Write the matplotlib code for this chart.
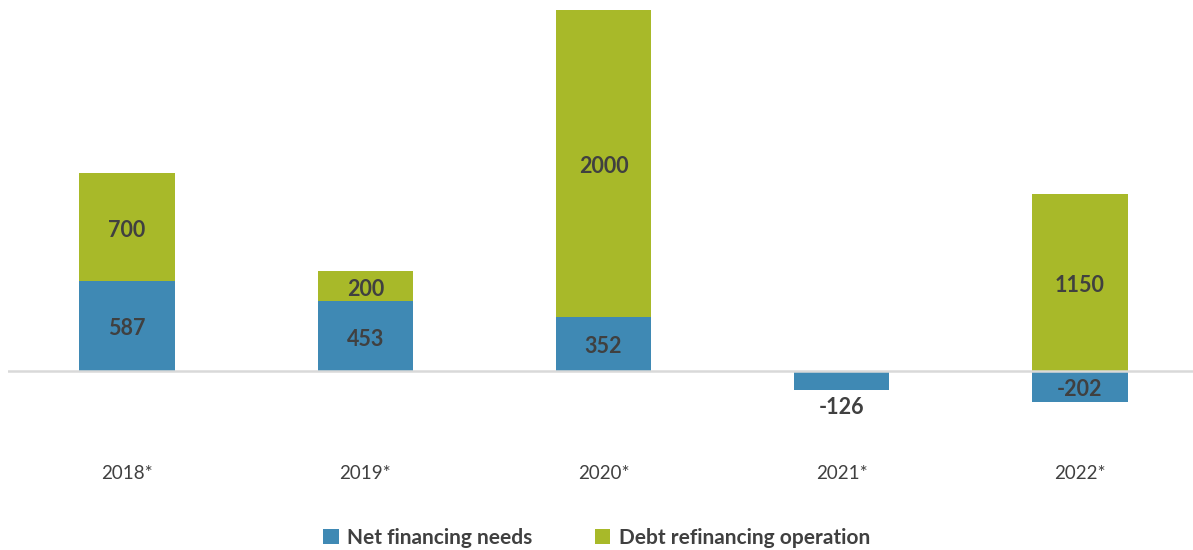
import matplotlib

matplotlib.use("Agg")
import matplotlib.pyplot as plt  # noqa: E402
import matplotlib.transforms as mtransforms  # noqa: E402
import numpy as np  # noqa: E402

years = ["2018*", "2019*", "2020*", "2021*", "2022*"]
net_financing = [587, 453, 352, -126, -202]
debt_refinancing = [700, 200, 2000, 0, 1150]
series_names = ["Net financing needs", "Debt refinancing operation"]

BLUE = "#3F89B4"
GREEN = "#A8B929"
TEXT = "#404040"

plt.rcParams["font.family"] = ["Lato", "DejaVu Sans"]

fig = plt.figure(figsize=(11.93, 5.5), dpi=100)
ax = fig.add_axes([8 / 1193, 100 / 550, 1185 / 1193, 440 / 550])

x = np.arange(len(years))
net = np.array(net_financing)
debt = np.array(debt_refinancing)
width = 0.4

ax.bar(x, net, width, color=BLUE, label=series_names[0], zorder=2)
# refinancing stacks on the positive part of the net bar
base = np.clip(net, 0, None)
ax.bar(x, debt, width, bottom=base, color=GREEN, label=series_names[1], zorder=2)

ax.axhline(0, color="#D9D9D9", linewidth=1.8, zorder=3)

# nudge labels down a few px to sit like the original (Calibri metrics)
shift = ax.transData + mtransforms.ScaledTranslation(0, -3 / 100, fig.dpi_scale_trans)
label_kw = dict(ha="center", va="center", fontsize=15.5, fontweight="bold", color=TEXT,
                zorder=4, transform=shift)
for i in range(len(years)):
    v = net[i]
    if abs(v) < 150:
        ax.text(x[i], v - 90 if v < 0 else v + 90, str(v), **label_kw)
    else:
        ax.text(x[i], v / 2, str(v), **label_kw)
    if debt[i] != 0:
        ax.text(x[i], base[i] + debt[i] / 2, str(debt[i]), **label_kw)

ax.set_xlim(-0.5, 4.5 - 6 / 238)
ax.set_ylim(-515, 2352)
ax.set_xticks(x)
ax.set_xticklabels(years, fontsize=13.5, color=TEXT)
ax.tick_params(axis="x", length=0, pad=11)
ax.set_yticks([])
for s in ax.spines.values():
    s.set_visible(False)

leg = fig.legend(loc="lower center", bbox_to_anchor=(0.5, -0.03), ncol=2, frameon=False,
                 handlelength=0.75, handleheight=0.75, handletextpad=0.4, columnspacing=3.0,
                 prop={"size": 15, "weight": "bold"})
for t in leg.get_texts():
    t.set_color(TEXT)

fig.savefig("out.png", dpi=100)
plt.close(fig)
